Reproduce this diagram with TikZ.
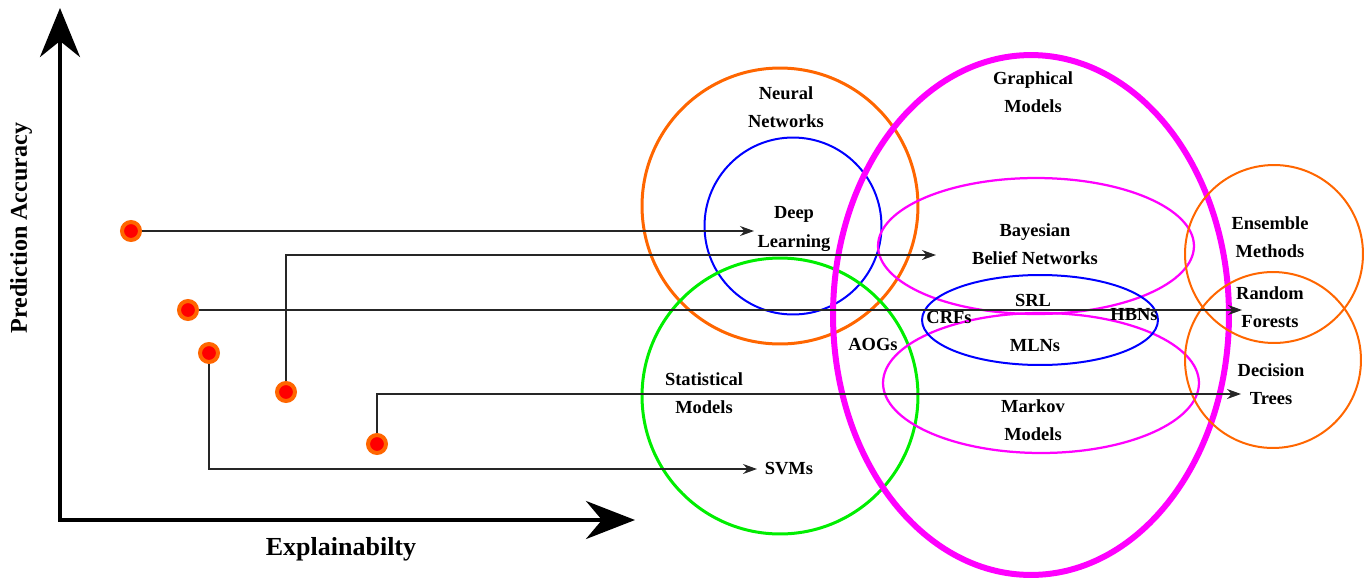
\documentclass[tikz,border=0pt]{standalone}
\usepackage{fontspec}
\setmainfont{Liberation Serif}
\usetikzlibrary{arrows.meta,shapes.geometric}
\definecolor{nnorange}{HTML}{FF6600}
\definecolor{gmmagenta}{HTML}{FF00FF}
\definecolor{smgreen}{HTML}{00EE00}
\begin{document}
\begin{tikzpicture}[x=0.02cm,y=-0.02cm,
  lbl/.style={font=\fontsize{10.5}{16.2}\selectfont\bfseries, align=center, inner sep=0pt},
  axislbl/.style={font=\fontsize{13.7}{16}\selectfont\bfseries, inner sep=0pt},
  dot/.style={circle, fill=red, draw=nnorange, line width=0.08cm, minimum size=0.36cm, inner sep=0pt},
  conn/.style={-{Stealth[length=0.28cm,width=0.2cm]}, line width=0.7pt, black!85},
  ring/.style={ellipse, inner sep=0pt}]
\useasboundingbox (0,0) rectangle (1367,579);

\node[ring, draw=nnorange, line width=0.06cm, minimum width=5.52cm, minimum height=5.52cm] (NN) at (780,206) {};
\node[ring, draw=blue, line width=0.04cm, minimum width=3.54cm, minimum height=3.54cm] (DL) at (793,226) {};
\node[ring, draw=smgreen, line width=0.06cm, minimum width=5.52cm, minimum height=5.52cm] (SM) at (780,396) {};
\node[ring, draw=gmmagenta, line width=0.12cm, minimum width=7.92cm, minimum height=10.4cm] (GM) at (1031,315) {};
\node[ring, draw=gmmagenta, line width=0.045cm, minimum width=6.32cm, minimum height=2.72cm] (BBN) at (1036,246) {};
\node[ring, draw=gmmagenta, line width=0.045cm, minimum width=6.32cm, minimum height=2.8cm] (MM) at (1041,383) {};
\node[ring, draw=blue, line width=0.04cm, minimum width=4.72cm, minimum height=1.8cm] (SRL) at (1040,320) {};
\node[ring, draw=nnorange, line width=0.04cm, minimum width=3.56cm, minimum height=3.56cm] (EM) at (1274,254) {};
\node[ring, draw=nnorange, line width=0.04cm, minimum width=3.52cm, minimum height=3.52cm] (DT) at (1273,360) {};

\coordinate (origin) at (60,520);
\coordinate (ytop) at (60,8);
\coordinate (xend) at (635,520);
\draw[line width=0.08cm, {Stealth[length=0.98cm,width=0.8cm]}-{Stealth[length=0.98cm,width=0.76cm]}] (ytop) -- (origin) -- (xend);

\node[axislbl, rotate=90] (yl) at (21,228) {Prediction Accuracy};
\node[axislbl, font=\fontsize{14.8}{17}\selectfont\bfseries] (xl) at (341,549) {Explainabilty};

\node[dot] (p1) at (131,231) {};
\node[dot] (p2) at (188,310) {};
\node[dot] (p3) at (209,353) {};
\node[dot] (p4) at (286,392) {};
\node[dot] (p5) at (377,444) {};

\coordinate (t1) at (754,231);
\coordinate (t2) at (936,255);
\coordinate (t3) at (1242,310);
\coordinate (t4) at (1241,394);
\coordinate (t5) at (757,469);

\draw[conn] (p1) -- (t1); \draw[conn] (p4) |- (t2); \draw[conn] (p2) -- (t3);
\draw[conn] (p5) |- (t4); \draw[conn] (p3) |- (t5);

\node[lbl] (nnl) at (786,107) {Neural\\Networks};
\node[lbl] (dll) at (794,229) {Deep\\Learning};
\node[lbl] (gml) at (1033,92) {Graphical\\Models};
\node[lbl] (bbnl) at (1035,244) {Bayesian\\Belief Networks};
\node[lbl] (srll) at (1033,300) {SRL};
\node[lbl] (crfl) at (949,317) {CRFs};
\node[lbl] (hbnl) at (1134,315) {HBNs};
\node[lbl] (aogl) at (873,344) {AOGs};
\node[lbl] (mlnl) at (1035,346) {MLNs};
\node[lbl] (sml) at (704,393) {Statistical\\Models};
\node[lbl] (mml) at (1033,420) {Markov\\Models};
\node[lbl] (svml) at (789,469) {SVMs};
\node[lbl] (eml) at (1270,237) {Ensemble\\Methods};
\node[lbl] (rfl) at (1270,307) {Random\\Forests};
\node[lbl] (dtl) at (1271,384) {Decision\\Trees};
\end{tikzpicture}
\end{document}
